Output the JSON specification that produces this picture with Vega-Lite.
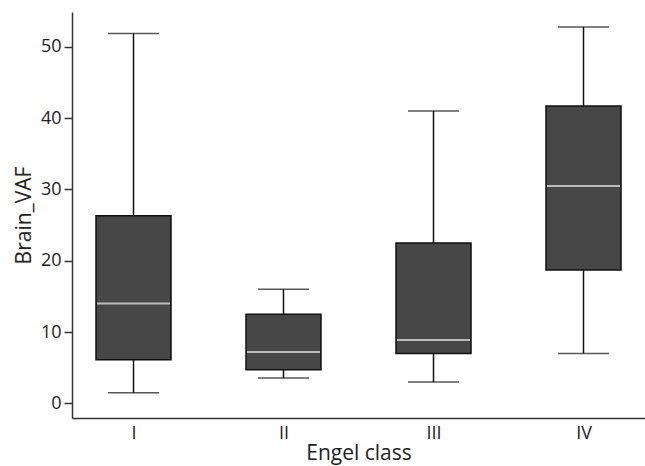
{
  "$schema": "https://vega.github.io/schema/vega-lite/v6.json",
  "width": 573,
  "height": 406,
  "autosize": {"type": "none"},
  "padding": {"left": 72, "top": 12, "right": 0, "bottom": 48},
  "background": "white",
  "config": {
    "font": "Open Sans",
    "view": {"stroke": null},
    "axis": {"grid": false, "domainColor": "#333333", "domainWidth": 1.5, "tickColor": "#333333", "tickWidth": 1.5, "labelColor": "#222222", "titleColor": "#222222", "labelFont": "Open Sans", "titleFont": "Open Sans", "titleFontWeight": "normal"}
  },
  "data": {
    "values": [
      {"cls": "I", "lower": 1.5, "q1": 6.1, "median": 14.0, "q3": 26.3, "upper": 51.9},
      {"cls": "II", "lower": 3.55, "q1": 4.7, "median": 7.2, "q3": 12.5, "upper": 16.0},
      {"cls": "III", "lower": 3.0, "q1": 7.0, "median": 8.9, "q3": 22.5, "upper": 41.0},
      {"cls": "IV", "lower": 7.0, "q1": 18.7, "median": 30.5, "q3": 41.7, "upper": 52.8}
    ]
  },
  "encoding": {
    "x": {
      "field": "cls", "type": "nominal", "sort": ["I", "II", "III", "IV"],
      "scale": {"type": "point", "padding": 0.41},
      "axis": {"title": "Engel class", "labelAngle": 0, "ticks": false, "labelPadding": 6, "labelFontSize": 18, "titleFontSize": 21, "titlePadding": 0}
    }
  },
  "layer": [
    {
      "mark": {"type": "rule", "color": "#111111", "strokeWidth": 1.5},
      "encoding": {
        "y": {"field": "lower", "type": "quantitative", "scale": {"domain": [-2.06, 54.9], "nice": false, "zero": false},
          "axis": {"title": "Brain_VAF", "values": [0, 10, 20, 30, 40, 50], "tickSize": 8, "labelPadding": 3, "labelFontSize": 18, "titleFontSize": 21, "titlePadding": 6}},
        "y2": {"field": "upper"}
      }
    },
    {
      "mark": {"type": "tick", "color": "#111111", "size": 51, "thickness": 1.5},
      "encoding": {"y": {"field": "upper", "type": "quantitative"}}
    },
    {
      "mark": {"type": "tick", "color": "#111111", "size": 51, "thickness": 1.5},
      "encoding": {"y": {"field": "lower", "type": "quantitative"}}
    },
    {
      "mark": {"type": "bar", "size": 75, "fill": "#474747", "stroke": "#111111", "strokeWidth": 1.5},
      "encoding": {"y": {"field": "q1", "type": "quantitative"}, "y2": {"field": "q3"}}
    },
    {
      "mark": {"type": "tick", "color": "#eeeeee", "size": 73, "thickness": 2},
      "encoding": {"y": {"field": "median", "type": "quantitative"}}
    }
  ]
}
